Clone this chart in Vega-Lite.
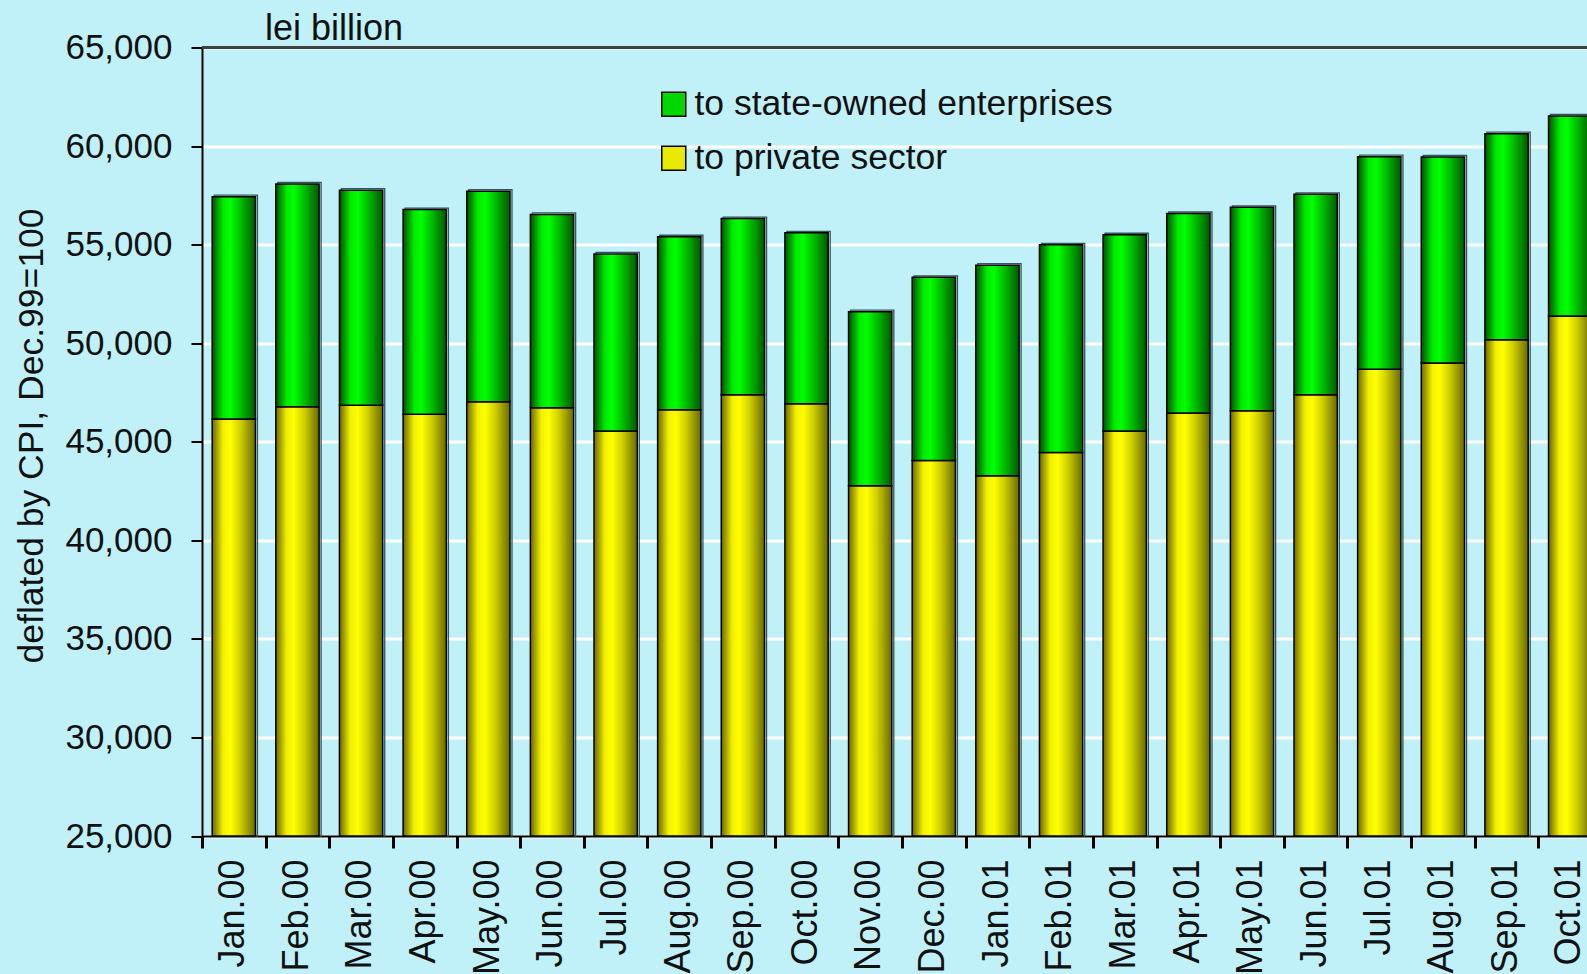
{
  "$schema": "https://vega.github.io/schema/vega-lite/v6.json",
  "width": 1385,
  "height": 788.5,
  "autosize": "none",
  "padding": {"left": 202, "top": 47.5, "right": 0, "bottom": 138},
  "background": "#C0F0F8",
  "config": {"view": {"stroke": null}, "font": "Liberation Sans"},
  "title": {"text": "lei billion", "anchor": "start", "frame": "group", "fontSize": 36, "fontWeight": "normal", "dx": 63, "offset": -17, "color": "#111111", "font": "Liberation Sans"},
  "data": {"values": [
    {"month": "Jan.00", "private": 46150, "total": 57430},
    {"month": "Feb.00", "private": 46770, "total": 58080},
    {"month": "Mar.00", "private": 46850, "total": 57760},
    {"month": "Apr.00", "private": 46400, "total": 56780},
    {"month": "May.00", "private": 47030, "total": 57710},
    {"month": "Jun.00", "private": 46720, "total": 56530},
    {"month": "Jul.00", "private": 45540, "total": 54530},
    {"month": "Aug.00", "private": 46620, "total": 55400},
    {"month": "Sep.00", "private": 47390, "total": 56320},
    {"month": "Oct.00", "private": 46930, "total": 55600},
    {"month": "Nov.00", "private": 42770, "total": 51600},
    {"month": "Dec.00", "private": 44050, "total": 53340},
    {"month": "Jan.01", "private": 43280, "total": 53960},
    {"month": "Feb.01", "private": 44460, "total": 54990},
    {"month": "Mar.01", "private": 45540, "total": 55500},
    {"month": "Apr.01", "private": 46460, "total": 56580},
    {"month": "May.01", "private": 46570, "total": 56890},
    {"month": "Jun.01", "private": 47390, "total": 57550},
    {"month": "Jul.01", "private": 48680, "total": 59460},
    {"month": "Aug.01", "private": 49000, "total": 59450},
    {"month": "Sep.01", "private": 50170, "total": 60630},
    {"month": "Oct.01", "private": 51380, "total": 61530}
  ]},
  "layer": [
    {
      "mark": {"type": "bar", "fill": null, "fillOpacity": 0, "stroke": "#35555c", "strokeWidth": 1.3, "xOffset": 2, "yOffset": -1.5},
      "encoding": {
        "x": {"field": "month", "type": "ordinal", "sort": null,
          "scale": {"range": [0, 1400], "paddingInner": 0.32, "paddingOuter": 0.16},
          "axis": {"title": null, "bandPosition": 0, "tickOffset": -10.2, "labelOffset": 9, "labelAngle": 270, "labelFontSize": 36, "labelColor": "#111111", "labelPadding": 11, "tickSize": 12, "tickWidth": 3, "tickColor": "black", "domainColor": "black", "domainWidth": 2, "grid": false, "labelFont": "Liberation Sans"}},
        "y": {"field": "total", "type": "quantitative",
          "scale": {"domain": [25000, 65000], "zero": false, "nice": false},
          "axis": {"values": [25000, 30000, 35000, 40000, 45000, 50000, 55000, 60000, 65000], "format": ",.0f", "labelFontSize": 35, "labelColor": "#111111", "labelPadding": 19, "tickSize": 11, "tickWidth": 2, "tickColor": "black", "domainColor": "black", "domainWidth": 2, "grid": true, "gridColor": "white", "gridWidth": 3, "gridOpacity": 1, "title": "deflated by CPI, Dec.99=100", "titleFontSize": 35.5, "titleFontWeight": "normal", "titleColor": "#111111", "titleAngle": -90, "titleX": -160, "titleY": 388, "titleAlign": "center", "titleBaseline": "alphabetic", "labelFont": "Liberation Sans", "titleFont": "Liberation Sans"}},
        "y2": {"datum": 25000}
      }
    },
    {
      "mark": {"type": "bar", "stroke": "black", "strokeWidth": 1.5,
        "fill": {"gradient": "linear", "x1": 0, "y1": 0, "x2": 1, "y2": 0, "stops": [{"offset": 0, "color": "#6E6600"}, {"offset": 0.25, "color": "#F0F000"}, {"offset": 0.42, "color": "#FFFF00"}, {"offset": 0.65, "color": "#D0D000"}, {"offset": 1, "color": "#6A6A00"}]}},
      "encoding": {
        "x": {"field": "month", "type": "ordinal", "sort": null},
        "y": {"field": "private", "type": "quantitative"},
        "y2": {"datum": 25000}
      }
    },
    {
      "mark": {"type": "bar", "stroke": "black", "strokeWidth": 1.5,
        "fill": {"gradient": "linear", "x1": 0, "y1": 0, "x2": 1, "y2": 0, "stops": [{"offset": 0, "color": "#005000"}, {"offset": 0.25, "color": "#00E800"}, {"offset": 0.42, "color": "#00FF00"}, {"offset": 0.65, "color": "#00C000"}, {"offset": 1, "color": "#005800"}]}},
      "encoding": {
        "x": {"field": "month", "type": "ordinal", "sort": null},
        "y": {"field": "total", "type": "quantitative"},
        "y2": {"field": "private"}
      }
    },
    {
      "mark": {"type": "bar", "strokeWidth": 0},
      "encoding": {
        "x": {"field": "month", "type": "ordinal", "sort": null},
        "y": {"datum": 25000},
        "y2": {"datum": 25000},
        "color": {"datum": "to state-owned enterprises", "type": "nominal",
          "scale": {"domain": ["to state-owned enterprises", "to private sector"], "range": ["#00D800", "#E8E800"]},
          "legend": {"orient": "none", "legendX": 454, "legendY": 39, "title": null, "symbolType": "square", "symbolSize": 576, "symbolStrokeColor": "black", "symbolStrokeWidth": 1.5, "labelFontSize": 35.5, "labelColor": "#111111", "labelOffset": 3, "rowPadding": 17, "padding": 0, "labelFont": "Liberation Sans", "labelLimit": 600}}
      }
    },
    {
      "mark": {"type": "bar", "strokeWidth": 0},
      "encoding": {
        "x": {"field": "month", "type": "ordinal", "sort": null},
        "y": {"datum": 25000},
        "y2": {"datum": 25000},
        "color": {"datum": "to private sector", "type": "nominal"}
      }
    },
    {
      "mark": {"type": "rule", "color": "#404040", "strokeWidth": 2},
      "encoding": {"y": {"datum": 65000}}
    }
  ]
}
